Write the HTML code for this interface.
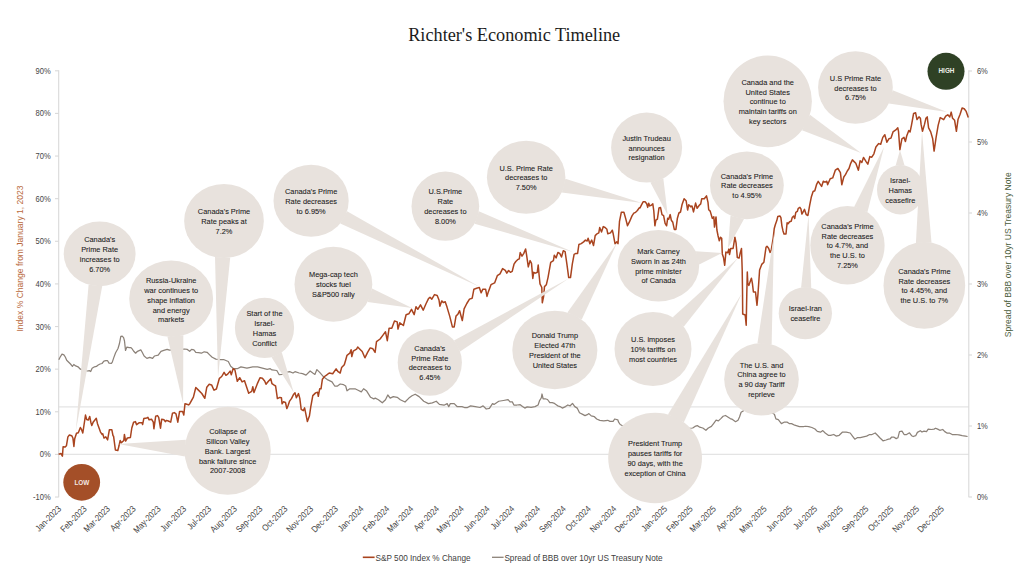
<!DOCTYPE html>
<html><head><meta charset="utf-8"><title>Richter's Economic Timeline</title>
<style>
html,body{margin:0;padding:0;background:#fff;}
body{width:1024px;height:585px;overflow:hidden;}
svg{display:block;}
text{font-family:"Liberation Sans",sans-serif;}
.t{font-family:"Liberation Serif",serif;}
</style></head><body>
<svg width="1024" height="585" viewBox="0 0 1024 585">
<rect width="1024" height="585" fill="#fff"/>
<text class="t" x="514.2" y="41" text-anchor="middle" font-size="18.4" fill="#1c1c1c" textLength="212" lengthAdjust="spacingAndGlyphs">Richter's Economic Timeline</text>
<g stroke="#e4e4e4" stroke-width="1.3" fill="none"><line x1="58.7" y1="406.8" x2="968.8" y2="406.8"/><line x1="58.7" y1="454.4" x2="968.8" y2="454.4"/></g>
<g stroke="#d9d9d9" stroke-width="1.1" fill="none"><line x1="58.7" y1="70.3" x2="58.7" y2="497.3"/><line x1="968.8" y1="70.3" x2="968.8" y2="497.3"/><line x1="55" y1="497.02" x2="58.7" y2="497.02"/><line x1="55" y1="454.4" x2="58.7" y2="454.4"/><line x1="55" y1="411.78" x2="58.7" y2="411.78"/><line x1="55" y1="369.16" x2="58.7" y2="369.16"/><line x1="55" y1="326.53" x2="58.7" y2="326.53"/><line x1="55" y1="283.91" x2="58.7" y2="283.91"/><line x1="55" y1="241.29" x2="58.7" y2="241.29"/><line x1="55" y1="198.67" x2="58.7" y2="198.67"/><line x1="55" y1="156.04" x2="58.7" y2="156.04"/><line x1="55" y1="113.42" x2="58.7" y2="113.42"/><line x1="55" y1="70.8" x2="58.7" y2="70.8"/><line x1="968.8" y1="497" x2="972" y2="497"/><line x1="968.8" y1="426" x2="972" y2="426"/><line x1="968.8" y1="355" x2="972" y2="355"/><line x1="968.8" y1="284" x2="972" y2="284"/><line x1="968.8" y1="213" x2="972" y2="213"/><line x1="968.8" y1="142" x2="972" y2="142"/><line x1="968.8" y1="71" x2="972" y2="71"/></g>
<g fill="#454545"><text transform="translate(50.6 500.02) scale(0.86 1)" font-size="8.8" text-anchor="end">-10%</text><text transform="translate(50.6 457.4) scale(0.86 1)" font-size="8.8" text-anchor="end">0%</text><text transform="translate(50.6 414.78) scale(0.86 1)" font-size="8.8" text-anchor="end">10%</text><text transform="translate(50.6 372.16) scale(0.86 1)" font-size="8.8" text-anchor="end">20%</text><text transform="translate(50.6 329.53) scale(0.86 1)" font-size="8.8" text-anchor="end">30%</text><text transform="translate(50.6 286.91) scale(0.86 1)" font-size="8.8" text-anchor="end">40%</text><text transform="translate(50.6 244.29) scale(0.86 1)" font-size="8.8" text-anchor="end">50%</text><text transform="translate(50.6 201.67) scale(0.86 1)" font-size="8.8" text-anchor="end">60%</text><text transform="translate(50.6 159.04) scale(0.86 1)" font-size="8.8" text-anchor="end">70%</text><text transform="translate(50.6 116.42) scale(0.86 1)" font-size="8.8" text-anchor="end">80%</text><text transform="translate(50.6 73.8) scale(0.86 1)" font-size="8.8" text-anchor="end">90%</text><text transform="translate(976.9 500) scale(0.86 1)" font-size="8.8">0%</text><text transform="translate(976.9 429) scale(0.86 1)" font-size="8.8">1%</text><text transform="translate(976.9 358) scale(0.86 1)" font-size="8.8">2%</text><text transform="translate(976.9 287) scale(0.86 1)" font-size="8.8">3%</text><text transform="translate(976.9 216) scale(0.86 1)" font-size="8.8">4%</text><text transform="translate(976.9 145) scale(0.86 1)" font-size="8.8">5%</text><text transform="translate(976.9 74) scale(0.86 1)" font-size="8.8">6%</text></g>
<text transform="translate(22.6 258.5) rotate(-90)" text-anchor="middle" font-size="8.6" fill="#b8693c" textLength="146" lengthAdjust="spacingAndGlyphs">Index % Change from January 1, 2023</text>
<text transform="translate(1011 254.8) rotate(-90)" text-anchor="middle" font-size="8.6" fill="#4a5c3a" textLength="165" lengthAdjust="spacingAndGlyphs">Spread of BBB over 10yr US Treasury Note</text>
<g fill="#454545"><text transform="translate(61.7 509.4) rotate(-45) scale(0.86 1)" font-size="9.0" text-anchor="end">Jan-2023</text><text transform="translate(87.4 509.4) rotate(-45) scale(0.86 1)" font-size="9.0" text-anchor="end">Feb-2023</text><text transform="translate(110.61 509.4) rotate(-45) scale(0.86 1)" font-size="9.0" text-anchor="end">Mar-2023</text><text transform="translate(136.31 509.4) rotate(-45) scale(0.86 1)" font-size="9.0" text-anchor="end">Apr-2023</text><text transform="translate(161.18 509.4) rotate(-45) scale(0.86 1)" font-size="9.0" text-anchor="end">May-2023</text><text transform="translate(186.88 509.4) rotate(-45) scale(0.86 1)" font-size="9.0" text-anchor="end">Jun-2023</text><text transform="translate(211.75 509.4) rotate(-45) scale(0.86 1)" font-size="9.0" text-anchor="end">Jul-2023</text><text transform="translate(237.45 509.4) rotate(-45) scale(0.86 1)" font-size="9.0" text-anchor="end">Aug-2023</text><text transform="translate(263.15 509.4) rotate(-45) scale(0.86 1)" font-size="9.0" text-anchor="end">Sep-2023</text><text transform="translate(288.02 509.4) rotate(-45) scale(0.86 1)" font-size="9.0" text-anchor="end">Oct-2023</text><text transform="translate(313.72 509.4) rotate(-45) scale(0.86 1)" font-size="9.0" text-anchor="end">Nov-2023</text><text transform="translate(338.59 509.4) rotate(-45) scale(0.86 1)" font-size="9.0" text-anchor="end">Dec-2023</text><text transform="translate(364.29 509.4) rotate(-45) scale(0.86 1)" font-size="9.0" text-anchor="end">Jan-2024</text><text transform="translate(389.98 509.4) rotate(-45) scale(0.86 1)" font-size="9.0" text-anchor="end">Feb-2024</text><text transform="translate(414.03 509.4) rotate(-45) scale(0.86 1)" font-size="9.0" text-anchor="end">Mar-2024</text><text transform="translate(439.72 509.4) rotate(-45) scale(0.86 1)" font-size="9.0" text-anchor="end">Apr-2024</text><text transform="translate(464.59 509.4) rotate(-45) scale(0.86 1)" font-size="9.0" text-anchor="end">May-2024</text><text transform="translate(490.29 509.4) rotate(-45) scale(0.86 1)" font-size="9.0" text-anchor="end">Jun-2024</text><text transform="translate(515.16 509.4) rotate(-45) scale(0.86 1)" font-size="9.0" text-anchor="end">Jul-2024</text><text transform="translate(540.86 509.4) rotate(-45) scale(0.86 1)" font-size="9.0" text-anchor="end">Aug-2024</text><text transform="translate(566.56 509.4) rotate(-45) scale(0.86 1)" font-size="9.0" text-anchor="end">Sep-2024</text><text transform="translate(591.43 509.4) rotate(-45) scale(0.86 1)" font-size="9.0" text-anchor="end">Oct-2024</text><text transform="translate(617.13 509.4) rotate(-45) scale(0.86 1)" font-size="9.0" text-anchor="end">Nov-2024</text><text transform="translate(642 509.4) rotate(-45) scale(0.86 1)" font-size="9.0" text-anchor="end">Dec-2024</text><text transform="translate(667.7 509.4) rotate(-45) scale(0.86 1)" font-size="9.0" text-anchor="end">Jan-2025</text><text transform="translate(693.4 509.4) rotate(-45) scale(0.86 1)" font-size="9.0" text-anchor="end">Feb-2025</text><text transform="translate(716.61 509.4) rotate(-45) scale(0.86 1)" font-size="9.0" text-anchor="end">Mar-2025</text><text transform="translate(742.31 509.4) rotate(-45) scale(0.86 1)" font-size="9.0" text-anchor="end">Apr-2025</text><text transform="translate(767.18 509.4) rotate(-45) scale(0.86 1)" font-size="9.0" text-anchor="end">May-2025</text><text transform="translate(792.88 509.4) rotate(-45) scale(0.86 1)" font-size="9.0" text-anchor="end">Jun-2025</text><text transform="translate(817.75 509.4) rotate(-45) scale(0.86 1)" font-size="9.0" text-anchor="end">Jul-2025</text><text transform="translate(843.45 509.4) rotate(-45) scale(0.86 1)" font-size="9.0" text-anchor="end">Aug-2025</text><text transform="translate(869.15 509.4) rotate(-45) scale(0.86 1)" font-size="9.0" text-anchor="end">Sep-2025</text><text transform="translate(894.02 509.4) rotate(-45) scale(0.86 1)" font-size="9.0" text-anchor="end">Oct-2025</text><text transform="translate(919.72 509.4) rotate(-45) scale(0.86 1)" font-size="9.0" text-anchor="end">Nov-2025</text><text transform="translate(944.59 509.4) rotate(-45) scale(0.86 1)" font-size="9.0" text-anchor="end">Dec-2025</text></g>
<path d="M58.8 359.8 L60.2 357 L62 354.1 L63.9 354.9 L65.3 357 L66.7 360.2 L68.2 361.7 L70.5 364 L72.4 366.4 L73.8 364.5 L75.7 365.9 L78 366.8 L80.4 369.2 L84 370.5 L87.4 371 L89.3 370.6 L90.7 371.5 L92.1 368.2 L94.5 366.8 L96.4 366.4 L98.2 365 L100.1 364 L102 363.5 L103.9 361.2 L105.8 360.7 L107.6 360.7 L109 363.1 L111.4 363.3 L112.3 362.1 L113.7 357.9 L115.6 352.7 L118 348.5 L119.4 343.8 L120.8 336.3 L122.2 336.1 L123.6 337.7 L124.5 341 L125.5 350.4 L126.9 347.1 L129.2 347.6 L130.7 347.6 L131.9 348.5 L133.8 351.3 L135.6 353.2 L137.5 351.3 L140.8 349.9 L142.2 352.3 L144.1 356 L146.9 358.4 L149.7 357.4 L152.6 358.4 L154.4 356 L158.2 355.1 L161 351.3 L163.8 350.4 L167.1 349.4 L169.5 350.2 L176 349.5 L184.5 349 L187.3 349.4 L189.7 351.3 L191.6 349.4 L193.9 349.9 L195.8 352.3 L198.6 352.7 L201.4 353.2 L204.2 351.8 L207.1 352.3 L209.4 354.6 L212.2 357.3 L215.8 359.1 L220.6 359.7 L224.1 359.7 L228.3 361.5 L230.7 366.3 L233.7 368.7 L237.3 368.7 L240.9 366.9 L246.9 368.1 L252.8 366.9 L257.6 366.9 L262.4 368.1 L267.2 369.3 L270.2 368.7 L272 369.9 L276.8 370.5 L279.2 374.7 L282.1 374.4 L286.2 372.4 L289.6 371.7 L293 373 L295 371.7 L299.2 373 L302.6 373.7 L306 375.1 L310.1 371 L312.8 373 L314.9 374.4 L316.9 369.6 L319.7 372.4 L323.8 377.1 L327.9 379.9 L332 381.9 L334.7 386 L337.5 386 L340.2 384 L343.6 384.7 L345.7 386 L347 390.8 L349.8 388.8 L353.9 388.8 L355 388.75 L358.1 390.3 L361.3 391.9 L363.6 388.75 L366.7 391.1 L370.6 397.3 L373.75 398.9 L375.3 398.1 L378.4 399.7 L382.3 402.8 L385.5 399.7 L387.8 395 L390.2 398.1 L393.3 396.6 L397.2 397.3 L400.3 399.7 L405 402 L408.9 398.1 L412 395.8 L415.2 394.2 L419.1 396.6 L423.75 401.25 L428.4 403.6 L432.3 402.8 L436.25 401.25 L439.4 404.4 L444 405.2 L447.2 403.6 L448.75 406.7 L450.3 403.6 L454.2 403.6 L457.3 406.7 L462 406.7 L464.4 407.5 L467.5 407.5 L470.6 405.9 L475.3 406.7 L480 407.5 L483.1 405.9 L486.25 409 L489.4 408.3 L492.5 403.6 L494 404.4 L498.75 401.25 L503.4 400.5 L508.1 399.7 L510 401.9 L512.3 401.9 L513.9 405 L517 405 L520.2 404.7 L522.5 406.6 L524.8 408.1 L527.2 406.9 L531.1 407.3 L535 406.6 L538.1 405 L539.7 400.3 L541.25 398 L542 394 L543.1 398.75 L545.2 398.75 L547.5 399.5 L549.8 402.7 L552.2 402.7 L554.5 403.4 L557.7 405.8 L560 406.6 L562.3 408.1 L565.5 406.6 L567.8 405 L570.2 405.8 L572.5 403.4 L574.8 406.6 L577.2 408.1 L579.5 412.8 L582.7 414.4 L585 415.6 L587.3 414.7 L588.9 413.6 L591.25 415.9 L594.4 416.7 L596.7 419 L599.8 420.3 L603.75 420.9 L607.7 420.3 L610 421.4 L613.1 421.4 L614.7 419 L617.8 419.8 L618.6 422.2 L620.2 424.5 L621.7 425.3 L640 427 L660 428 L680 429 L692.7 428 L695 426.4 L697.3 425.6 L699.7 427.2 L702.8 428 L705.9 430.3 L708.3 428 L711.4 426.4 L713.75 423.3 L716.1 420.2 L718.4 420.9 L720.8 418.6 L723.1 416.25 L725.5 415.5 L727.8 417 L730.2 418.6 L732.5 419.4 L735.6 421.7 L738 420.2 L739.5 417 L741.1 412.3 L748 408 L760 410 L770 412 L774.4 414.2 L775.9 418.9 L778.3 419.7 L781.4 423.6 L784.5 422 L786.9 422 L789.2 423.6 L791.6 423.6 L794.7 425.2 L799.4 426.7 L803.3 426.7 L805.6 426.25 L808.75 426.7 L811.9 427.5 L815 429 L817.3 431.4 L820.5 432.2 L822.8 430.6 L825.2 433 L828.3 435.3 L830.6 435.3 L833.75 434.5 L836.1 436.1 L839.2 435.3 L842.3 432.2 L846.25 432.2 L850.2 433 L852.5 436.1 L854.8 439.2 L857.2 437.7 L860.3 437.7 L863.4 436.9 L866.6 436.1 L869.7 434.5 L872 434.5 L875.2 433 L877.5 435.3 L879.8 437.7 L883 440.8 L886.1 440 L888.4 439.2 L890 439 L891.7 437 L893.7 437 L896.2 438.6 L897.9 437.8 L899.5 431.6 L902 431.1 L904.1 434.5 L906.6 434.5 L909.5 432.8 L911.6 435.7 L913.2 436.5 L915.7 435.7 L917.4 432.4 L920.3 430.7 L922 432 L924 431.1 L926.5 431.6 L928.2 429.1 L931.5 429.5 L934 429.1 L935.6 428.2 L937.7 429.1 L939.8 430.3 L942.7 429.5 L944.8 431.6 L947.3 433.2 L949.8 433.2 L952.2 434.5 L955.6 434.5 L958.9 434.9 L962.2 435.7 L965.5 436.1 L967.6 436.5" fill="none" stroke="#8c8279" stroke-width="1.25" stroke-linejoin="round"/>
<path d="M58.6 454.2 L61 453.6 L62.4 456.2 L63.1 446.7 L65.2 447 L66.4 445.8 L67.9 436.9 L69.4 435 L71.7 435.7 L72.9 438 L73.9 446.4 L74.7 438.7 L76.5 433.3 L78.3 432.7 L80.4 427.5 L81.6 429.7 L82.8 433 L85.5 415.1 L86.7 419.5 L88.3 420.1 L89.7 416.5 L90.9 422.5 L91.8 425.5 L93.3 421.9 L96.3 418.3 L97.5 423.7 L100.5 432.1 L102.2 434.5 L102.8 433.9 L104 438.1 L105.8 436.9 L107.6 439.9 L109.4 429.7 L111.8 429.7 L113 435.7 L113.6 436.3 L115.4 450 L117.8 450.6 L119 445.8 L120.2 440.5 L121.4 442.8 L123.8 440.5 L124.4 434.5 L125.6 441 L127.4 438 L130.4 437.5 L131.8 428 L133.6 422.2 L135.4 421.6 L136.6 424.6 L139 422.8 L142 422.8 L142.6 424.6 L143.8 418.6 L146.7 418 L147.9 417.4 L149.1 419.8 L151.5 419.2 L153.3 422.2 L153.9 428.8 L155.7 416.2 L157.5 415.6 L158.7 417.4 L160.5 428.2 L161.7 419.2 L164.1 419.8 L165.3 421.6 L166.5 420.4 L168.3 421 L170.7 422.2 L172.5 413.2 L174.3 412.6 L176 413.8 L177.8 422.2 L179.6 411.4 L182.6 411.4 L183.8 415 L185 403.7 L186.8 404.3 L188.6 404.9 L189.8 403.7 L193.4 397.1 L195.8 387.5 L198.2 389.9 L201.8 393.5 L204.8 398.3 L206.8 387.2 L209.2 384.3 L211.6 384.9 L214 390.2 L216.4 389 L219.4 378.3 L221.7 376.5 L224.1 372.3 L225.9 375.3 L227.7 374.1 L230.1 371.1 L231.3 374.7 L233.1 368.7 L234.9 369.9 L237.3 381.3 L239.7 377.7 L242.1 381.9 L244.5 380.7 L248.7 393.2 L251.7 391.4 L252.8 386.7 L254 392.6 L257.6 383.1 L260 377.7 L262.4 378.3 L264.8 381.3 L266 384.3 L268.4 381.3 L270.8 378.9 L272 383.7 L273.8 384.9 L275.6 386 L277.4 398.6 L279.8 397.4 L281.4 397.7 L282.1 403.8 L283.4 401.8 L285.5 402.5 L286.8 408.6 L288.2 405.2 L289.6 401.1 L291.6 398.4 L293.7 394.2 L295 392.9 L296.4 397.7 L298.5 393.6 L299.8 398.4 L301.2 409.3 L303.3 410.7 L304.6 407.9 L307.4 421.6 L309.4 416.1 L310.8 406.6 L312.8 395.6 L315.6 392.9 L317.6 392.2 L318.3 396.3 L319.7 388.8 L321 388.8 L322.4 379.2 L324.5 376.5 L326.5 375.1 L329.2 373 L332.7 373.7 L336.1 368.9 L338.1 371.7 L340.2 373 L341.6 367.6 L344.3 364.8 L345.7 360 L347 355.3 L349.8 353.2 L351.1 349.8 L351.8 356.6 L353.2 351.2 L356.6 349.1 L357.7 347 L360.4 349.7 L362.2 351.5 L364.9 357.8 L367.6 352.4 L370.2 347.9 L372.9 348.8 L375.1 352.4 L376.5 341.6 L380.1 339 L382.8 335.4 L385.5 331.8 L387.3 340.7 L389.1 328.2 L391.8 328.2 L394.5 321 L397.2 321.9 L398 329.1 L399.8 322.8 L403.4 325.5 L406.1 314.7 L408.8 313.8 L411.5 309.3 L414.2 314.7 L416 306.7 L417.8 309.3 L420.5 304.9 L423.2 310.2 L425.9 304 L428.5 298.6 L430 297.3 L431.8 299.1 L434.5 294.6 L437.2 295.5 L439 300 L439.9 306.2 L441.7 300.9 L443.5 302.6 L445.2 301.7 L447 307.1 L449.7 316.1 L452.4 326.9 L454.2 326.9 L456 316.1 L457.8 314.3 L459.6 310.7 L462.3 320.6 L464.1 308.9 L466.8 303.5 L469.5 299.1 L472.2 298.2 L473.9 289.2 L476.6 288.3 L479.3 287.4 L481.1 292.8 L482.9 289.2 L485.6 289.2 L487 296.4 L488.3 291.9 L491 284.7 L494.6 282.9 L497.3 275.7 L500 273.9 L502.6 268.6 L505.3 270.4 L506.8 273.2 L508.6 270.5 L510.4 272.3 L512.2 271.4 L514 264.2 L515.8 261.5 L517.6 259.7 L519.3 258.8 L520.2 252.5 L522 256.1 L523.8 253.4 L525.6 249 L526.5 254.3 L528.3 266.9 L530.1 260.6 L531.5 263.3 L532.8 278.5 L533.7 272.3 L535.5 273.2 L537.3 272.3 L538.2 265.1 L539.1 275 L540 283.9 L541.8 287.5 L542.3 302.8 L543.6 296.5 L544.5 286.6 L546.3 284.8 L548 277.6 L550.7 262.4 L553.4 260.6 L554.3 255.2 L556.1 257.9 L557.9 252.5 L559.7 253.4 L561.5 257 L563.3 250.7 L565.1 251.6 L566.9 264.2 L568.7 277.6 L570.5 277.6 L572.3 264.2 L574.1 254.3 L575.9 253.4 L577.6 253.4 L578.9 244.5 L581.2 243.6 L583.6 241.9 L585.4 240.1 L587.2 241 L588.1 238.3 L589.9 243.7 L591.7 240.1 L593.5 245.5 L595.2 235.6 L597 233.8 L598.8 232.9 L599.7 227.5 L601.5 232 L603.3 226.6 L605.1 227.5 L606.9 229.3 L607.8 233.8 L610.5 232.9 L612.3 230.2 L613.2 233.8 L615 243.7 L616.8 241.9 L618 243.7 L619.5 221.3 L621.3 212.3 L623.9 212.3 L625.7 218.6 L627.5 225.7 L629.3 222.2 L632 215.9 L633.8 213.2 L635.6 212.3 L637.4 210.5 L639.2 207.8 L640 207.9 L641.5 204.8 L643.1 201.8 L645.1 201.8 L646.7 203.8 L647.7 207.4 L648.7 203.3 L649.7 205.9 L651.3 205.3 L652.8 203.8 L653.8 211 L654.9 225.8 L655.9 220.2 L657.4 219.2 L659 207.9 L660.5 207.4 L662 214.6 L663.6 215.6 L665.1 223.3 L666.6 225.8 L667.7 218.2 L668.7 219.2 L670.2 214.6 L671.3 220.2 L672.8 222.3 L674.3 229.4 L675.9 229.4 L677.4 218.2 L678.9 213 L680.5 212 L682 204.8 L684.1 198.7 L686.1 200.7 L687.6 210 L688.7 204.8 L690 205.9 L690.6 206.8 L692 206 L693.5 211.9 L695.6 203.1 L697.1 208.2 L699.3 205.3 L700.7 203.9 L701.7 198.8 L704.3 198.8 L706.5 195.9 L708 202.4 L708.7 209.7 L710.2 211.1 L712.3 218.4 L713.8 216.9 L714.5 227.1 L716 216.9 L716.9 230 L718.1 236 L719.3 240.8 L720.5 237.2 L721.7 238.4 L722.3 253.9 L723.5 257.5 L724.7 265.3 L725.9 252.1 L727.7 252.7 L728.9 249.1 L729.5 254.5 L730.7 248.5 L733.1 248.5 L734.9 237.2 L736.1 243.2 L737.3 257.5 L739.1 258.1 L740.3 252.7 L741.5 248.5 L742.2 270 L742.5 290.5 L742.7 314 L745.2 315 L746.2 325.3 L746.8 293.6 L747.3 272 L747.8 283.3 L748.8 285.4 L750.3 281.3 L751.4 278.2 L752.4 283.3 L753.4 292 L755.5 292 L757 305.3 L758 293.6 L759.6 270 L761.7 264.4 L763.9 262.2 L766 247.3 L767 246.3 L768.6 248.3 L770.1 252.4 L771.2 250.4 L773.2 238.1 L774.2 228.8 L775.3 224.7 L776.8 220.6 L777.8 216.5 L779.9 216 L780.9 217.6 L781.9 225.8 L783 230.9 L784 234 L786 234 L787.1 222.7 L788.1 223.7 L789.6 221.7 L791.2 221.2 L792.2 217.6 L793.7 216 L794.7 218.6 L795.8 212.4 L797.3 211.4 L798.3 208.3 L799.9 207.3 L800.9 208.8 L801.9 214 L802.9 212.4 L804.5 209.4 L806.2 214.6 L807.9 215.5 L809.7 205.2 L811.4 196.7 L813.1 191.5 L814.8 190.7 L816.5 184.7 L818.2 181.3 L819.9 183.8 L821.6 186.4 L823.3 181.3 L825 182.1 L826.8 181.3 L827.6 184.7 L830.2 178.7 L832.7 177.9 L835.3 170.2 L837.9 168.5 L840.4 172.7 L841.8 184.7 L843.8 177 L845.6 174.4 L847.3 171 L849 168.5 L850.7 163.3 L852.4 159.9 L854.1 161.6 L855.8 163.3 L858.4 170.2 L860.1 160.8 L861.8 162.5 L863.5 157.4 L866.1 161.6 L867.8 164.2 L869.8 156.6 L871.8 157.2 L873.9 153.8 L875.9 147 L878.7 143.6 L880.7 144.2 L882.8 137.4 L884.8 134.7 L886.9 142.2 L888.9 138.8 L891 138.1 L893 131.9 L895.8 129.9 L897.8 127.8 L898.5 131.3 L899.9 149.7 L901.9 138.8 L904 137.4 L905.4 141.5 L906.7 136 L908.8 130.6 L910.1 131.9 L911.5 125.1 L913.6 113.5 L915.6 112.8 L917 119.6 L919 116.9 L920.4 118.3 L921.1 124.4 L922.5 131.3 L924.5 124.4 L925.9 118.3 L927.2 116.9 L928.6 127.8 L930.7 131.9 L932.7 138.8 L934.1 151.1 L936.1 137.4 L938.2 125.1 L940.2 117.6 L941.6 118.3 L943.7 119.6 L945.7 116.2 L947.8 114.8 L949.8 116.9 L951.2 112.1 L952.6 118.3 L954.6 120.3 L956.4 131.3 L958 119.6 L960.1 114.2 L962.1 108 L964.2 108.7 L966.2 111.4 L968.3 117.6" fill="none" stroke="#a9441f" stroke-width="1.5" stroke-linejoin="round"/>
<g fill="#e8e2dd"><ellipse cx="99.65" cy="253.85" rx="35.95" ry="32.35"/><path d="M102.22 286.12 L75.8 431 L88.6 284.63 Z"/><ellipse cx="171.15" cy="298.7" rx="41.95" ry="38.2"/><path d="M183.35 335.25 L183.1 403.8 L167.43 336.75 Z"/><ellipse cx="224" cy="221" rx="39.85" ry="37"/><path d="M230.21 257.55 L218 378 L215.01 257.05 Z"/><ellipse cx="264.5" cy="327.85" rx="29.6" ry="30.15"/><path d="M281.76 352.34 L293.7 392.6 L271.5 357.15 Z"/><ellipse cx="227.65" cy="450.8" rx="43.15" ry="44"/><path d="M184.87 456.55 L118.5 444 L185.87 439.79 Z"/><ellipse cx="311.1" cy="200.7" rx="37.6" ry="36"/><path d="M347.04 211.28 L480 287 L340.28 223.4 Z"/><ellipse cx="333.4" cy="284.25" rx="38.9" ry="37.45"/><path d="M372.06 288.44 L412 308 L367.61 302.08 Z"/><ellipse cx="445.35" cy="206.15" rx="33.85" ry="34.65"/><path d="M478.84 211.17 L573 252 L474.57 223.65 Z"/><ellipse cx="429.8" cy="362.45" rx="32.1" ry="33.35"/><path d="M453.96 340.49 L568.7 278.5 L460.12 351.49 Z"/><ellipse cx="526.15" cy="177.3" rx="39.25" ry="36.5"/><path d="M565.37 178.84 L642 203 L561.89 192.39 Z"/><ellipse cx="554.85" cy="349.95" rx="42.55" ry="39.25"/><path d="M567.43 312.45 L617 243 L581.74 319.53 Z"/><ellipse cx="646.6" cy="147.6" rx="35.5" ry="35"/><path d="M663.35 178.46 L667.7 215 L650.4 182.4 Z"/><ellipse cx="658.45" cy="265.75" rx="40.75" ry="35.75"/><path d="M695.71 251.28 L722 253 L699.18 264.58 Z"/><ellipse cx="653" cy="349" rx="38.5" ry="37"/><path d="M672.78 317.26 L738 258 L683.71 326.69 Z"/><ellipse cx="655.1" cy="458" rx="46.9" ry="45.15"/><path d="M667.94 414.57 L742 293 L683.9 422.37 Z"/><ellipse cx="746.9" cy="185.35" rx="36.9" ry="33.85"/><path d="M744.02 219.1 L728 248 L730.45 215.65 Z"/><ellipse cx="761.5" cy="379.25" rx="37.3" ry="36.15"/><path d="M757.45 343.31 L774 234 L771.64 344.46 Z"/><ellipse cx="805.35" cy="313.3" rx="26.65" ry="26"/><path d="M801.08 287.64 L808.5 215 L811.25 287.95 Z"/><ellipse cx="847.45" cy="245.3" rx="37.15" ry="39.3"/><path d="M854.2 206.65 L884 147 L867.4 212.14 Z"/><ellipse cx="767.7" cy="101.3" rx="44.2" ry="45.9"/><path d="M809.95 114.78 L861 153 L802.01 130.24 Z"/><ellipse cx="855.45" cy="87.5" rx="37.35" ry="36.2"/><path d="M892.69 90.3 L947 112 L888.89 103.62 Z"/><ellipse cx="900.3" cy="189.75" rx="23.3" ry="24.65"/><path d="M895.67 165.59 L900 150 L904.56 165.52 Z"/><ellipse cx="924.35" cy="285.4" rx="40.85" ry="43.4"/><path d="M915.91 242.94 L922 131 L931.5 242.67 Z"/></g>
<g fill="#202020" stroke="#202020" stroke-width="0.08"><text transform="translate(99.65 242.15) scale(0.925 1)" font-size="8.0" text-anchor="middle">Canada's</text><text transform="translate(99.65 251.95) scale(0.925 1)" font-size="8.0" text-anchor="middle">Prime Rate</text><text transform="translate(99.65 261.75) scale(0.925 1)" font-size="8.0" text-anchor="middle">increases to</text><text transform="translate(99.65 271.55) scale(0.925 1)" font-size="8.0" text-anchor="middle">6.70%</text><text transform="translate(171.15 283.1) scale(0.925 1)" font-size="8.0" text-anchor="middle">Russia-Ukraine</text><text transform="translate(171.15 292.9) scale(0.925 1)" font-size="8.0" text-anchor="middle">war continues to</text><text transform="translate(171.15 302.7) scale(0.925 1)" font-size="8.0" text-anchor="middle">shape inflation</text><text transform="translate(171.15 312.5) scale(0.925 1)" font-size="8.0" text-anchor="middle">and energy</text><text transform="translate(171.15 322.3) scale(0.925 1)" font-size="8.0" text-anchor="middle">markets</text><text transform="translate(224 214.2) scale(0.925 1)" font-size="8.0" text-anchor="middle">Canada's Prime</text><text transform="translate(224 224) scale(0.925 1)" font-size="8.0" text-anchor="middle">Rate peaks at</text><text transform="translate(224 233.8) scale(0.925 1)" font-size="8.0" text-anchor="middle">7.2%</text><text transform="translate(264.5 316.15) scale(0.925 1)" font-size="8.0" text-anchor="middle">Start of the</text><text transform="translate(264.5 325.95) scale(0.925 1)" font-size="8.0" text-anchor="middle">Israel-</text><text transform="translate(264.5 335.75) scale(0.925 1)" font-size="8.0" text-anchor="middle">Hamas</text><text transform="translate(264.5 345.55) scale(0.925 1)" font-size="8.0" text-anchor="middle">Conflict</text><text transform="translate(227.65 434.2) scale(0.925 1)" font-size="8.0" text-anchor="middle">Collapse of</text><text transform="translate(227.65 444) scale(0.925 1)" font-size="8.0" text-anchor="middle">Silicon Valley</text><text transform="translate(227.65 453.8) scale(0.925 1)" font-size="8.0" text-anchor="middle">Bank. Largest</text><text transform="translate(227.65 463.6) scale(0.925 1)" font-size="8.0" text-anchor="middle">bank failure since</text><text transform="translate(227.65 473.4) scale(0.925 1)" font-size="8.0" text-anchor="middle">2007-2008</text><text transform="translate(311.1 193.9) scale(0.925 1)" font-size="8.0" text-anchor="middle">Canada's Prime</text><text transform="translate(311.1 203.7) scale(0.925 1)" font-size="8.0" text-anchor="middle">Rate decreases</text><text transform="translate(311.1 213.5) scale(0.925 1)" font-size="8.0" text-anchor="middle">to 6.95%</text><text transform="translate(333.4 277.45) scale(0.925 1)" font-size="8.0" text-anchor="middle">Mega-cap tech</text><text transform="translate(333.4 287.25) scale(0.925 1)" font-size="8.0" text-anchor="middle">stocks fuel</text><text transform="translate(333.4 297.05) scale(0.925 1)" font-size="8.0" text-anchor="middle">S&amp;P500 rally</text><text transform="translate(445.35 194.45) scale(0.925 1)" font-size="8.0" text-anchor="middle">U.S.Prime</text><text transform="translate(445.35 204.25) scale(0.925 1)" font-size="8.0" text-anchor="middle">Rate</text><text transform="translate(445.35 214.05) scale(0.925 1)" font-size="8.0" text-anchor="middle">decreases to</text><text transform="translate(445.35 223.85) scale(0.925 1)" font-size="8.0" text-anchor="middle">8.00%</text><text transform="translate(429.8 350.75) scale(0.925 1)" font-size="8.0" text-anchor="middle">Canada's</text><text transform="translate(429.8 360.55) scale(0.925 1)" font-size="8.0" text-anchor="middle">Prime Rate</text><text transform="translate(429.8 370.35) scale(0.925 1)" font-size="8.0" text-anchor="middle">decreases to</text><text transform="translate(429.8 380.15) scale(0.925 1)" font-size="8.0" text-anchor="middle">6.45%</text><text transform="translate(526.15 170.5) scale(0.925 1)" font-size="8.0" text-anchor="middle">U.S. Prime Rate</text><text transform="translate(526.15 180.3) scale(0.925 1)" font-size="8.0" text-anchor="middle">decreases to</text><text transform="translate(526.15 190.1) scale(0.925 1)" font-size="8.0" text-anchor="middle">7.50%</text><text transform="translate(554.85 338.25) scale(0.925 1)" font-size="8.0" text-anchor="middle">Donald Trump</text><text transform="translate(554.85 348.05) scale(0.925 1)" font-size="8.0" text-anchor="middle">Elected 47th</text><text transform="translate(554.85 357.85) scale(0.925 1)" font-size="8.0" text-anchor="middle">President of the</text><text transform="translate(554.85 367.65) scale(0.925 1)" font-size="8.0" text-anchor="middle">United States</text><text transform="translate(646.6 140.8) scale(0.925 1)" font-size="8.0" text-anchor="middle">Justin Trudeau</text><text transform="translate(646.6 150.6) scale(0.925 1)" font-size="8.0" text-anchor="middle">announces</text><text transform="translate(646.6 160.4) scale(0.925 1)" font-size="8.0" text-anchor="middle">resignation</text><text transform="translate(658.45 254.05) scale(0.925 1)" font-size="8.0" text-anchor="middle">Mark Carney</text><text transform="translate(658.45 263.85) scale(0.925 1)" font-size="8.0" text-anchor="middle">Sworn in as 24th</text><text transform="translate(658.45 273.65) scale(0.925 1)" font-size="8.0" text-anchor="middle">prime minister</text><text transform="translate(658.45 283.45) scale(0.925 1)" font-size="8.0" text-anchor="middle">of Canada</text><text transform="translate(653 342.2) scale(0.925 1)" font-size="8.0" text-anchor="middle">U.S. imposes</text><text transform="translate(653 352) scale(0.925 1)" font-size="8.0" text-anchor="middle">10% tariffs on</text><text transform="translate(653 361.8) scale(0.925 1)" font-size="8.0" text-anchor="middle">most countries</text><text transform="translate(655.1 446.3) scale(0.925 1)" font-size="8.0" text-anchor="middle">President Trump</text><text transform="translate(655.1 456.1) scale(0.925 1)" font-size="8.0" text-anchor="middle">pauses tariffs for</text><text transform="translate(655.1 465.9) scale(0.925 1)" font-size="8.0" text-anchor="middle">90 days, with the</text><text transform="translate(655.1 475.7) scale(0.925 1)" font-size="8.0" text-anchor="middle">exception of China</text><text transform="translate(746.9 178.55) scale(0.925 1)" font-size="8.0" text-anchor="middle">Canada's Prime</text><text transform="translate(746.9 188.35) scale(0.925 1)" font-size="8.0" text-anchor="middle">Rate decreases</text><text transform="translate(746.9 198.15) scale(0.925 1)" font-size="8.0" text-anchor="middle">to 4.95%</text><text transform="translate(761.5 367.55) scale(0.925 1)" font-size="8.0" text-anchor="middle">The U.S. and</text><text transform="translate(761.5 377.35) scale(0.925 1)" font-size="8.0" text-anchor="middle">China agree to</text><text transform="translate(761.5 387.15) scale(0.925 1)" font-size="8.0" text-anchor="middle">a 90 day Tariff</text><text transform="translate(761.5 396.95) scale(0.925 1)" font-size="8.0" text-anchor="middle">reprieve</text><text transform="translate(805.35 311.4) scale(0.925 1)" font-size="8.0" text-anchor="middle">Israel-Iran</text><text transform="translate(805.35 321.2) scale(0.925 1)" font-size="8.0" text-anchor="middle">ceasefire</text><text transform="translate(847.45 228.7) scale(0.925 1)" font-size="8.0" text-anchor="middle">Canada's Prime</text><text transform="translate(847.45 238.5) scale(0.925 1)" font-size="8.0" text-anchor="middle">Rate decreases</text><text transform="translate(847.45 248.3) scale(0.925 1)" font-size="8.0" text-anchor="middle">to 4.7%, and</text><text transform="translate(847.45 258.1) scale(0.925 1)" font-size="8.0" text-anchor="middle">the U.S. to</text><text transform="translate(847.45 267.9) scale(0.925 1)" font-size="8.0" text-anchor="middle">7.25%</text><text transform="translate(767.7 84.7) scale(0.925 1)" font-size="8.0" text-anchor="middle">Canada and the</text><text transform="translate(767.7 94.5) scale(0.925 1)" font-size="8.0" text-anchor="middle">United States</text><text transform="translate(767.7 104.3) scale(0.925 1)" font-size="8.0" text-anchor="middle">continue to</text><text transform="translate(767.7 114.1) scale(0.925 1)" font-size="8.0" text-anchor="middle">maintain tariffs on</text><text transform="translate(767.7 123.9) scale(0.925 1)" font-size="8.0" text-anchor="middle">key sectors</text><text transform="translate(855.45 80.7) scale(0.925 1)" font-size="8.0" text-anchor="middle">U.S Prime Rate</text><text transform="translate(855.45 90.5) scale(0.925 1)" font-size="8.0" text-anchor="middle">decreases to</text><text transform="translate(855.45 100.3) scale(0.925 1)" font-size="8.0" text-anchor="middle">6.75%</text><text transform="translate(900.3 182.95) scale(0.925 1)" font-size="8.0" text-anchor="middle">Israel-</text><text transform="translate(900.3 192.75) scale(0.925 1)" font-size="8.0" text-anchor="middle">Hamas</text><text transform="translate(900.3 202.55) scale(0.925 1)" font-size="8.0" text-anchor="middle">ceasefire</text><text transform="translate(924.35 273.7) scale(0.925 1)" font-size="8.0" text-anchor="middle">Canada's Prime</text><text transform="translate(924.35 283.5) scale(0.925 1)" font-size="8.0" text-anchor="middle">Rate decreases</text><text transform="translate(924.35 293.3) scale(0.925 1)" font-size="8.0" text-anchor="middle">to 4.45%, and</text><text transform="translate(924.35 303.1) scale(0.925 1)" font-size="8.0" text-anchor="middle">the U.S. to 7%</text></g>
<circle cx="81.7" cy="482.3" r="18.4" fill="#a44f28"/><text x="81.9" y="484.7" text-anchor="middle" font-size="6.4" font-weight="bold" fill="#f3e9e3">LOW</text>
<circle cx="946" cy="71.3" r="18.5" fill="#2f4125"/><text x="946.5" y="72.5" text-anchor="middle" font-size="6.4" font-weight="bold" fill="#eef0e8">HIGH</text>
<line x1="362.8" y1="557.3" x2="374.6" y2="557.3" stroke="#a9441f" stroke-width="1.6"/><text x="375.6" y="560.6" font-size="8.4" fill="#404040" textLength="95" lengthAdjust="spacingAndGlyphs">S&amp;P 500 Index % Change</text><line x1="492" y1="557.3" x2="503.6" y2="557.3" stroke="#8c8279" stroke-width="1.3"/><text x="504.4" y="560.6" font-size="8.4" fill="#404040" textLength="158.3" lengthAdjust="spacingAndGlyphs">Spread of BBB over 10yr US Treasury Note</text>
</svg>
</body></html>
